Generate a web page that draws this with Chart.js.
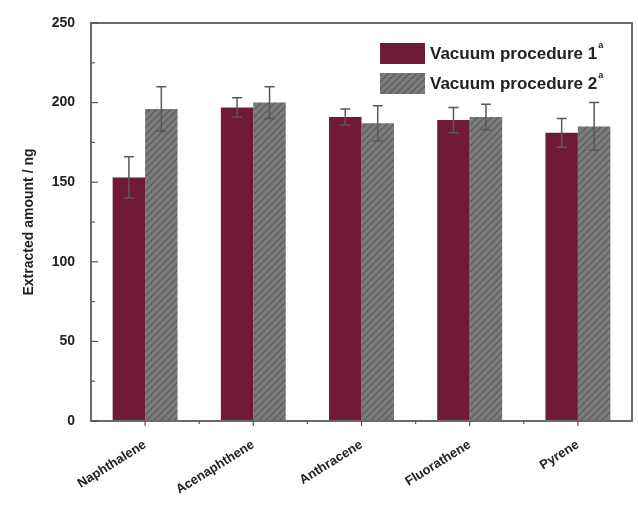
<!DOCTYPE html>
<html>
<head>
<meta charset="utf-8">
<script src="https://cdn.jsdelivr.net/npm/chart.js@4.4.0/dist/chart.umd.min.js"></script>
<style>
    body { margin: 0; background: #fff; }
    #wrap { width: 638px; height: 506px; }
</style>
</head>
<body>
<div id="wrap"><canvas id="myChart" width="638" height="506"></canvas></div>
<script>
const categories = ['Naphthalene', 'Acenaphthene', 'Anthracene', 'Fluorathene', 'Pyrene'];
const proc1 = [153, 197, 191, 189, 181];
const proc1Err = [13, 6, 5, 8, 9];
const proc2 = [196, 200, 187, 191, 185];
const proc2Err = [14, 10, 11, 8, 15];
const seriesNames = ['Vacuum procedure 1', 'Vacuum procedure 2'];
const yTicks = [0, 50, 100, 150, 200, 250];

// hatched grey fill
const pat = document.createElement('canvas');
pat.width = 7;
pat.height = 7;
const pc = pat.getContext('2d');
pc.fillStyle = '#7b7b7b';
pc.fillRect(0, 0, 7, 7);
pc.strokeStyle = '#5a5a5a';
pc.lineWidth = 1.2;
pc.beginPath();
pc.moveTo(0, 7); pc.lineTo(7, 0);
pc.moveTo(-1, 1); pc.lineTo(1, -1);
pc.moveTo(6, 8); pc.lineTo(8, 6);
pc.stroke();
const ctx = document.getElementById('myChart');
const hatch = ctx.getContext('2d').createPattern(pat, 'repeat');

const redCol = '#701b35';

const extras = {
    id: 'extras',
    afterDatasetsDraw(chart) {
        const c = chart.ctx;
        const area = chart.chartArea;
        const y = chart.scales.y;
        const x = chart.scales.x;
        c.save();
        // error bars
        const errs = [proc1Err, proc2Err];
        c.strokeStyle = '#5a5a5a';
        c.lineWidth = 1.5;
        chart.data.datasets.forEach(function (ds, i) {
            const meta = chart.getDatasetMeta(i);
            meta.data.forEach(function (bar, j) {
                const top = y.getPixelForValue(ds.data[j] + errs[i][j]);
                const bot = y.getPixelForValue(ds.data[j] - errs[i][j]);
                c.beginPath();
                c.moveTo(bar.x, top); c.lineTo(bar.x, bot);
                c.moveTo(bar.x - 5, top); c.lineTo(bar.x + 5, top);
                c.moveTo(bar.x - 5, bot); c.lineTo(bar.x + 5, bot);
                c.stroke();
            });
        });
        // frame
        c.strokeStyle = '#6a6a6a';
        c.lineWidth = 2;
        c.strokeRect(area.left, area.top, area.right - area.left, area.bottom - area.top);
        // inward ticks
        c.lineWidth = 1.2;
        c.strokeStyle = '#555';
        for (let v = 0; v <= 250; v += 25) {
            const py = y.getPixelForValue(v);
            const len = v % 50 === 0 ? 7 : 4;
            c.beginPath();
            c.moveTo(area.left, py); c.lineTo(area.left + len, py);
            c.stroke();
        }
        for (let k = 0; k < categories.length; k++) {
            const px = x.getPixelForValue(k);
            c.beginPath();
            c.moveTo(px, area.bottom); c.lineTo(px, area.bottom + 5);
            c.stroke();
            if (k < categories.length - 1) {
                const mx = (px + x.getPixelForValue(k + 1)) / 2;
                c.beginPath();
                c.moveTo(mx, area.bottom); c.lineTo(mx, area.bottom + 3);
                c.stroke();
            }
        }
        // legend
        const fills = [redCol, hatch];
        for (let i = 0; i < 2; i++) {
            const ly = 43 + i * 30;
            c.fillStyle = fills[i];
            c.fillRect(380, ly, 45, 21);
            c.fillStyle = '#222';
            c.font = 'bold 17px "Liberation Sans", Arial, sans-serif';
            c.textBaseline = 'middle';
            c.textAlign = 'left';
            c.fillText(seriesNames[i], 430, ly + 11);
            const w = c.measureText(seriesNames[i]).width;
            c.font = 'bold 9px "Liberation Sans", Arial, sans-serif';
            c.fillText('a', 431 + w, ly + 3);
        }
        c.restore();
    }
};

const myChart = new Chart(ctx, {
    type: 'bar',
    data: {
        labels: categories,
        datasets: [{
            label: seriesNames[0],
            data: proc1,
            backgroundColor: redCol,
            borderWidth: 0
        }, {
            label: seriesNames[1],
            data: proc2,
            backgroundColor: hatch,
            borderColor: '#666',
            borderWidth: 0
        }]
    },
    options: {
        responsive: false,
        animation: false,
        layout: {
            padding: { top: 23, right: 6, left: 21, bottom: 0 }
        },
        plugins: {
            legend: { display: false },
            tooltip: { enabled: false }
        },
        datasets: {
            bar: { categoryPercentage: 0.6, barPercentage: 1.0 }
        },
        scales: {
            x: {
                grid: { display: false },
                border: { display: false },
                ticks: {
                    color: '#222',
                    minRotation: 32,
                    maxRotation: 32,
                    padding: 8,
                    font: { family: '"Liberation Sans", Arial, sans-serif', weight: 'bold', size: 13 }
                },
                afterFit: function (s) { s.height = 85; }
            },
            y: {
                min: 0,
                max: 250,
                afterBuildTicks: function (s) {
                    s.ticks = yTicks.map(function (v) { return { value: v }; });
                },
                grid: { display: false },
                border: { display: false },
                ticks: {
                    color: '#222',
                    padding: 8,
                    font: { family: '"Liberation Sans", Arial, sans-serif', weight: 'bold', size: 14 }
                },
                title: {
                    display: true,
                    text: 'Extracted amount / ng',
                    color: '#222',
                    padding: { top: 0, bottom: 0 },
                    font: { family: '"Liberation Sans", Arial, sans-serif', weight: 'bold', size: 14 }
                },
                afterFit: function (s) { s.width = 70; }
            }
        }
    },
    plugins: [extras]
});
</script>
</body>
</html>
